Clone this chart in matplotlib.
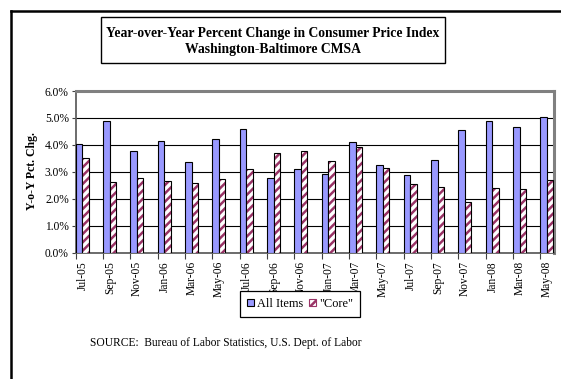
import matplotlib
matplotlib.use("Agg")
import matplotlib.pyplot as plt
from matplotlib.patches import Rectangle, Patch
from matplotlib.lines import Line2D
import numpy as np

categories = ["Jul-05", "Sep-05", "Nov-05", "Jan-06", "Mar-06", "May-06", "Jul-06",
              "Sep-06", "Nov-06", "Jan-07", "Mar-07", "May-07", "Jul-07", "Sep-07",
              "Nov-07", "Jan-08", "Mar-08", "May-08"]
all_items = [4.02, 4.89, 3.76, 4.13, 3.37, 4.21, 4.60, 2.76, 3.10, 2.91, 4.11, 3.25,
             2.88, 3.45, 4.56, 4.89, 4.67, 5.04]
core = [3.51, 2.62, 2.76, 2.65, 2.58, 2.73, 3.10, 3.69, 3.76, 3.41, 3.94, 3.14,
        2.54, 2.43, 1.89, 2.39, 2.35, 2.69]
yticks = [0, 1, 2, 3, 4, 5, 6]
ytick_labels = ["0.0%", "1.0%", "2.0%", "3.0%", "4.0%", "5.0%", "6.0%"]

SERIF = ["Liberation Serif", "DejaVu Serif"]
plt.rcParams["font.family"] = SERIF
plt.rcParams["hatch.linewidth"] = 1.8

W, H = 561, 379
fig = plt.figure(figsize=(W / 100, H / 100), dpi=100)
fig.patch.set_facecolor("white")

def fx(px):
    return px / W

def fy(py):
    return 1 - py / H

# outer frame (left and top edges)
fig.add_artist(Line2D([fx(11), fx(11)], [fy(11), fy(379)], color="black", lw=1.8,
                      transform=fig.transFigure))
fig.add_artist(Line2D([fx(11), fx(561)], [fy(11), fy(11)], color="black", lw=1.8,
                      transform=fig.transFigure))

# title box
fig.add_artist(Rectangle((fx(101), fy(62.7)), fx(445) - fx(101), fy(17.3) - fy(62.7),
                         transform=fig.transFigure, fill=False, edgecolor="black", lw=1.0))
fig.text(fx(273), fy(33), "Year-over-Year Percent Change in Consumer Price Index",
         ha="center", va="center", fontsize=9.8, fontweight="bold")
fig.text(fx(273), fy(50), "Washington-Baltimore CMSA",
         ha="center", va="center", fontsize=9.8, fontweight="bold")

ax = fig.add_axes([fx(75.7), fy(252.7), fx(554) - fx(75.7), fy(91) - fy(252.7)])

x = np.arange(len(categories))
bw = 0.245
blue = "#9999FF"
maroon = "#993366"

ax.bar(x, all_items, width=bw, align="edge", color=blue, edgecolor="black",
       linewidth=0.8, zorder=3)
ax.bar(x + bw, core, width=bw * 0.92, align="edge", color="white", edgecolor=maroon,
       hatch="////", linewidth=0, zorder=3)
ax.bar(x + bw, core, width=bw * 0.92, align="edge", fill=False, edgecolor="black",
       linewidth=0.8, zorder=4)

ax.set_xlim(0, 17.5)
ax.set_ylim(0, 6)
ax.set_yticks(yticks)
ax.set_yticklabels(ytick_labels, fontsize=8.3)
ax.yaxis.grid(True, color="black", lw=0.8, zorder=0)
ax.set_axisbelow(True)

ax.set_xticks(x)
ax.set_xticklabels([])
ax.set_xticks(x + 0.25, minor=True)
ax.set_xticklabels(categories, minor=True, rotation=90, fontsize=8.3)
ax.tick_params(axis="x", which="major", length=4, direction="out", color="#404040")
ax.tick_params(axis="x", which="minor", length=0, pad=6)
ax.tick_params(axis="y", length=3, direction="out", color="#404040", pad=2)

for s in ["top", "right"]:
    ax.spines[s].set_color("#808080")
    ax.spines[s].set_linewidth(2.2)
for s in ["left", "bottom"]:
    ax.spines[s].set_color("#606060")
    ax.spines[s].set_linewidth(1.3)

fig.text(fx(32), fy(171), "Y-o-Y Pct. Chg.", rotation=90, ha="center", va="center",
         fontsize=8.5, fontweight="bold")

handles = [Patch(facecolor=blue, edgecolor="black", lw=0.8, label="All Items"),
           Patch(facecolor="white", edgecolor=maroon, hatch="////", lw=0.8, label='"Core"')]
leg = fig.legend(handles=handles, loc="center", bbox_to_anchor=(fx(300), fy(304)), ncol=2,
                 fontsize=8.8, frameon=True, fancybox=False, edgecolor="black", framealpha=1,
                 handlelength=0.55, handleheight=0.55, handletextpad=0.25, columnspacing=0.5,
                 borderpad=0.6, borderaxespad=0)
leg.get_frame().set_linewidth(0.9)

fig.text(fx(90), fy(343), "SOURCE:  Bureau of Labor Statistics, U.S. Dept. of Labor",
         ha="left", va="center", fontsize=8.3)

fig.savefig("out.png", dpi=100, facecolor="white")
